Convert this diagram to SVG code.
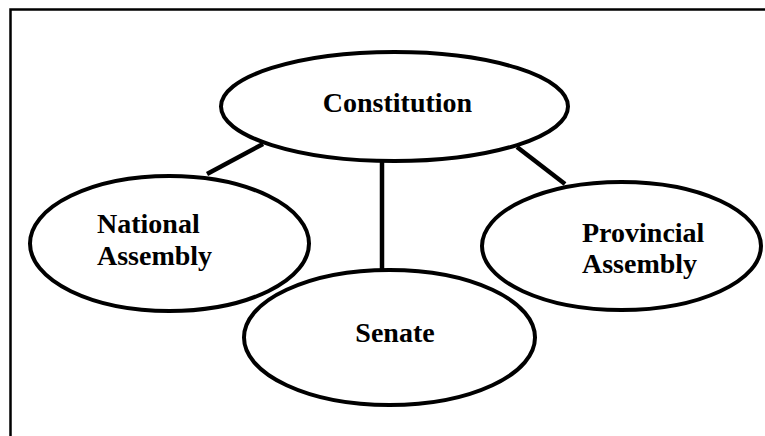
<svg xmlns="http://www.w3.org/2000/svg" width="765" height="436" viewBox="0 0 765 436">
<style>
.node ellipse{fill:#fff;stroke:#000;stroke-width:4}
.lbl{font-family:"Liberation Serif","Times New Roman",serif;font-weight:bold;font-size:28px;fill:#000}
.conn line{stroke:#000;stroke-width:4.5}
</style>
<rect width="765" height="436" fill="#fff"/>
<path d="M10.5,436 V9.5 H765" fill="none" stroke="#000" stroke-width="2.5"/>
<g id="connectors" class="conn">
<line x1="263" y1="144" x2="207" y2="174"/>
<line x1="382" y1="160" x2="382" y2="270"/>
<line x1="517" y1="147" x2="565" y2="184"/>
</g>
<g id="constitution" class="node">
<ellipse cx="394.5" cy="106.5" rx="173.5" ry="54.5"/>
<text class="lbl" x="397.5" y="112" text-anchor="middle" font-size="29">Constitution</text>
</g>
<g id="national" class="node">
<ellipse cx="169.5" cy="243.5" rx="139.5" ry="67.5"/>
<text class="lbl" x="97" y="233">National</text>
<text class="lbl" x="97" y="265">Assembly</text>
</g>
<g id="provincial" class="node">
<ellipse cx="621.5" cy="246" rx="139.5" ry="64"/>
<text class="lbl" x="582" y="242">Provincial</text>
<text class="lbl" x="582" y="273">Assembly</text>
</g>
<g id="senate" class="node">
<ellipse cx="389.5" cy="337.5" rx="145.5" ry="67.5"/>
<text class="lbl" x="395" y="342" text-anchor="middle">Senate</text>
</g>
</svg>
